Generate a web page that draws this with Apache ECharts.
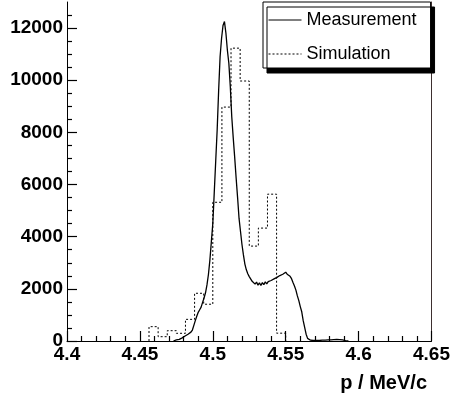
<!DOCTYPE html>
<html><head><meta charset="utf-8">
<script src="https://cdn.jsdelivr.net/npm/echarts@6/dist/echarts.min.js"></script>
<style>html,body{margin:0;padding:0;background:#fff}#c{width:453px;height:400px}</style>
</head><body><div id="c"></div>
<script>
// ---- axis ticks ----
const yMajorTicks = [0, 2000, 4000, 6000, 8000, 10000, 12000];
const yMinorTicks = [500, 1000, 1500, 2500, 3000, 3500, 4500, 5000, 5500, 6500, 7000, 7500,
                     8500, 9000, 9500, 10500, 11000, 11500, 12500];
const xAxisMin = 4.4, xAxisMax = 4.65, xAxisStep = 0.05;

// ---- Measurement: fine-binned histogram (bin width 0.001, first bin centre 4.473) ----
const measFirst = 4.473, measStep = 0.001;
const measCounts = [
  0, 30, 40, 55, 60, 90, 120, 160, 190, 230,          // 4.473 - 4.482
  260, 300, 340, 420, 600, 780, 950, 1100, 1200, 1300, // 4.483 - 4.492
  1480, 1650, 1850, 2150, 2550, 3100, 3800, 4500, 5700, 6900, // 4.493 - 4.502
  8100, 9600, 10900, 11600, 12100, 12250, 11800, 11150, 10650, 9750, // 4.503 - 4.512
  8600, 7800, 7050, 6250, 5500, 4700, 4200, 3700, 3300, 2950, // 4.513 - 4.522
  2730, 2580, 2470, 2420, 2290, 2310, 2180, 2260, 2140, 2230, // 4.523 - 4.532
  2130, 2240, 2160, 2270, 2190, 2280, 2210, 2320, 2260, 2380, // 4.533 - 4.542
  2310, 2440, 2380, 2510, 2450, 2560, 2520, 2640, 2560, 2580, // 4.543 - 4.552
  2480, 2390, 2240, 2110, 1950, 1730, 1550, 1320, 1120, 780,  // 4.553 - 4.562
  520, 260, 100, 50, 30, 45, 20, 35, 25, 40,                  // 4.563 - 4.572
  20, 35, 30, 45, 30, 60, 40, 70, 45, 80,                     // 4.573 - 4.582
  55, 90, 60, 85, 50, 70, 40, 30, 15, 10, 0                   // 4.583 - 4.593
];

// ---- Simulation: coarse histogram (bin edges, counts) ----
const simEdges = [4.45625, 4.4625, 4.46875, 4.475, 4.48125, 4.4875, 4.49375, 4.5,
                  4.50625, 4.5125, 4.51875, 4.525, 4.53125, 4.5375, 4.54375, 4.55];
const simCounts = [550, 165, 395, 295, 830, 1830, 1410, 5320, 8970, 11230, 9970, 3640, 4330, 5630, 300];

const measData = measCounts.map((v, i) => [+(measFirst + i * measStep).toFixed(4), v]);
const simData = [[simEdges[0], 0]];
simCounts.forEach((v, i) => simData.push([simEdges[i], v]));
simData.push([simEdges[simEdges.length - 1], 0]);

const FONT = "'Liberation Sans', Arial, Helvetica, sans-serif";
const chart = echarts.init(document.getElementById('c'), null, {renderer: 'canvas'});
chart.setOption({
  animation: false,
  backgroundColor: '#fff',
  grid: {left: 67, right: 20.5, top: 2, bottom: 59, containLabel: false},
  legend: {
    data: ['Measurement', 'Simulation'],
    orient: 'vertical',
    left: 263, top: 2,
    padding: [9, 14, 5, 5],
    itemGap: 16, itemWidth: 33, itemHeight: 14,
    backgroundColor: '#fff', borderColor: '#000', borderWidth: 1,
    shadowColor: '#000', shadowBlur: 0, shadowOffsetX: 4, shadowOffsetY: 5,
    itemStyle: {opacity: 0},
    lineStyle: {width: 1},
    textStyle: {fontSize: 18, color: '#000', fontFamily: FONT}
  },
  xAxis: {
    type: 'value', min: xAxisMin, max: xAxisMax, interval: xAxisStep,
    axisLine: {show: true, lineStyle: {color: '#000', width: 1}},
    axisTick: {show: true, inside: true, length: 10, lineStyle: {color: '#000', width: 1.2}},
    minorTick: {show: true, splitNumber: 5, length: 5, lineStyle: {color: '#000', width: 1.2}},
    splitLine: {show: false},
    axisLabel: {color: '#000', fontSize: 19, fontWeight: 'bold', fontFamily: FONT, margin: 4,
                formatter: v => String(+v.toFixed(2))},
    name: 'p / MeV/c', nameLocation: 'end', nameGap: -4.5,
    nameTextStyle: {align: 'right', verticalAlign: 'top', fontSize: 20, fontWeight: 'bold',
                    fontFamily: FONT, color: '#000', padding: [32, 0, 0, 0]}
  },
  yAxis: [
    {
      type: 'value', min: 0, max: 13000, position: 'left',
      axisLine: {show: true, lineStyle: {color: '#000', width: 1}},
      axisTick: {show: true, inside: true, length: 10, customValues: yMajorTicks, lineStyle: {color: '#000', width: 1.2}},
      axisLabel: {customValues: yMajorTicks, color: '#000', fontSize: 19, fontWeight: 'bold', fontFamily: FONT, margin: 4,
                  formatter: v => String(v)},
      splitLine: {show: false}
    },
    {
      type: 'value', min: 0, max: 13000, position: 'left',
      axisLine: {show: false},
      axisTick: {show: true, inside: true, length: 5, customValues: yMinorTicks, lineStyle: {color: '#000', width: 1.2}},
      axisLabel: {show: false},
      splitLine: {show: false}
    },
    {
      type: 'value', min: 0, max: 13000, position: 'right',
      axisLine: {show: true, lineStyle: {color: '#3d2f2f', width: 1}},
      axisTick: {show: false}, axisLabel: {show: false}, splitLine: {show: false}
    }
  ],
  series: [
    {
      name: 'Measurement', type: 'line', data: measData, symbol: 'none', showSymbol: false,
      lineStyle: {color: '#000', width: 1.3}, itemStyle: {color: '#000'}, z: 3
    },
    {
      name: 'Simulation', type: 'line', data: simData, step: 'end', symbol: 'none', showSymbol: false,
      lineStyle: {color: '#000', width: 1, type: [2, 2]}, itemStyle: {color: '#000'}, z: 2
    }
  ]
});
</script></body></html>
